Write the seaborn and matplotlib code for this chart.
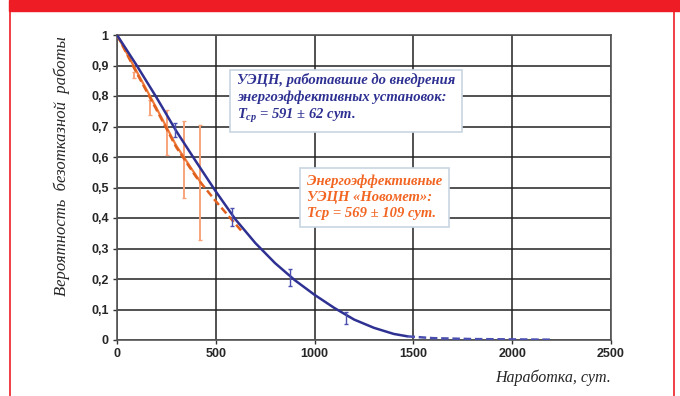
import matplotlib
matplotlib.use('Agg')
import matplotlib.pyplot as plt
import seaborn as sns
import pandas as pd
from matplotlib.patches import Rectangle
from matplotlib.lines import Line2D

# blue curve - old ESP units
blue_x = [0, 100, 200, 300, 400, 500, 600, 700, 800, 900, 1000, 1100, 1200, 1300, 1400, 1470]
blue_y = [1, 0.9, 0.795, 0.685, 0.585, 0.487, 0.395, 0.318, 0.252, 0.196, 0.148, 0.105, 0.067, 0.04, 0.02, 0.012]
blue_tail_x = [1470, 1600, 1800, 2000, 2200]
blue_tail_y = [0.012, 0.006, 0.003, 0.002, 0.001]
blue_err_x = [294, 583, 877, 1161]
blue_err_y = [0.689, 0.403, 0.205, 0.072]
blue_err = [0.022, 0.03, 0.027, 0.02]

# orange curve - Novomet energy efficient units
orange_x = [0, 100, 200, 300, 430]
orange_y = [1, 0.88, 0.76, 0.637, 0.51]
orange_dash_x = [0, 100, 200, 300, 400, 500, 600, 640]
orange_dash_y = [1, 0.875, 0.755, 0.632, 0.535, 0.455, 0.38, 0.35]
orange_err_x = [86, 167, 254, 340, 421]
orange_err_lo = [0.86, 0.738, 0.607, 0.466, 0.328]
orange_err_hi = [0.88, 0.787, 0.754, 0.718, 0.705]

yticks = [0, 0.1, 0.2, 0.3, 0.4, 0.5, 0.6, 0.7, 0.8, 0.9, 1]
ytick_labels = ['0', '0,1', '0,2', '0,3', '0,4', '0,5', '0,6', '0,7', '0,8', '0,9', '1']
xticks = [0, 500, 1000, 1500, 2000, 2500]

BLUE = '#2e3192'
ORANGE = '#f26522'

sns.set_theme(style='white')
plt.rcParams['font.family'] = ['Liberation Sans', 'DejaVu Sans']
plt.rcParams['mathtext.fontset'] = 'custom'
plt.rcParams['mathtext.it'] = 'Liberation Serif:italic:bold'
plt.rcParams['mathtext.rm'] = 'Liberation Serif:bold'

fig = plt.figure(figsize=(6.8, 3.96), dpi=100)
ax = fig.add_axes([117/680, 1-340/396, (611-117)/680, (340-35)/396])

# red frame of the magazine page
fig.patches.append(Rectangle((9/680, 1-11/396), 1, 11/396, transform=fig.transFigure,
                             color='#ee1c25', zorder=0))
fig.lines.append(Line2D([9.5/680, 9.5/680], [0, 1], transform=fig.transFigure, color='#ee1c25', lw=1.2))
fig.lines.append(Line2D([673.5/680, 673.5/680], [0, 1], transform=fig.transFigure, color='#ee1c25', lw=1.2))

# orange error bars
oc = [(a + b) / 2 for a, b in zip(orange_err_lo, orange_err_hi)]
ax.errorbar(orange_err_x, oc,
            yerr=[[c - a for c, a in zip(oc, orange_err_lo)], [b - c for b, c in zip(orange_err_hi, oc)]],
            fmt='none', ecolor='#f7a47a', elinewidth=1.4, capsize=1.5, capthick=1, zorder=3)

df_o = pd.DataFrame({'x': orange_x, 'y': orange_y})
df_od = pd.DataFrame({'x': orange_dash_x, 'y': orange_dash_y})
sns.lineplot(data=df_o, x='x', y='y', ax=ax, color='#f07a3a', lw=1.6, zorder=4)
sns.lineplot(data=df_od, x='x', y='y', ax=ax, color='#e0601e', lw=1.8, linestyle=(0, (3, 1.5)), zorder=4)

df_b = pd.DataFrame({'x': blue_x, 'y': blue_y})
df_bt = pd.DataFrame({'x': blue_tail_x, 'y': blue_tail_y})
sns.lineplot(data=df_b, x='x', y='y', ax=ax, color=BLUE, lw=1.8, zorder=5)
sns.lineplot(data=df_bt, x='x', y='y', ax=ax, color='#4a4fb0', lw=1.8, linestyle=(0, (3, 1.5)), zorder=5)
ax.errorbar(blue_err_x, blue_err_y, yerr=blue_err, fmt='none', ecolor='#4a4fb0',
            elinewidth=1.0, capsize=1.5, capthick=1, zorder=6)

ax.set_xlim(0, 2500)
ax.set_ylim(0, 1)
ax.set_xticks(xticks)
ax.set_xticklabels([str(t) for t in xticks], fontweight='bold', fontsize=9)
ax.set_yticks(yticks)
ax.set_yticklabels(ytick_labels, fontweight='bold', fontsize=9)
ax.grid(True, color='#222222', lw=1.1)
ax.set_axisbelow(True)
for s in ax.spines.values():
    s.set_color('#555555')
    s.set_linewidth(1.2)
ax.tick_params(axis='both', length=3, width=1, color='#333333', pad=3, direction='out',
               bottom=True, left=True)

ax.set_xlabel('')
ax.set_ylabel('')
fig.text(611/680, 1-378/396, 'Наработка, сут.', ha='right', va='center', fontsize=11.5,
         family='Liberation Serif', style='italic')
fig.text(62/680, 1-166/396, 'Вероятность  безотказной  работы', ha='center', va='center',
         rotation=90, fontsize=12, family='Liberation Serif', style='italic')

ax.text(607, 0.875,
        'УЭЦН, работавшие до внедрения\nэнергоэффективных установок:\n$T_{ср}$ = 591 ± 62 сут.',
        ha='left', va='top', fontsize=10.5, family='Liberation Serif', style='italic',
        fontweight='bold', color=BLUE, linespacing=1.3, zorder=10,
        bbox=dict(boxstyle='square,pad=0.45', fc='white', ec='#c9d6e3', lw=1.2))
ax.text(961, 0.541,
        'Энергоэффективные\nУЭЦН «Новомет»:\nТср = 569 ± 109 сут.',
        ha='left', va='top', fontsize=10.5, family='Liberation Serif', style='italic',
        fontweight='bold', color=ORANGE, linespacing=1.3, zorder=10,
        bbox=dict(boxstyle='square,pad=0.45', fc='white', ec='#c9d6e3', lw=1.2))

fig.savefig('out.png', dpi=100)
